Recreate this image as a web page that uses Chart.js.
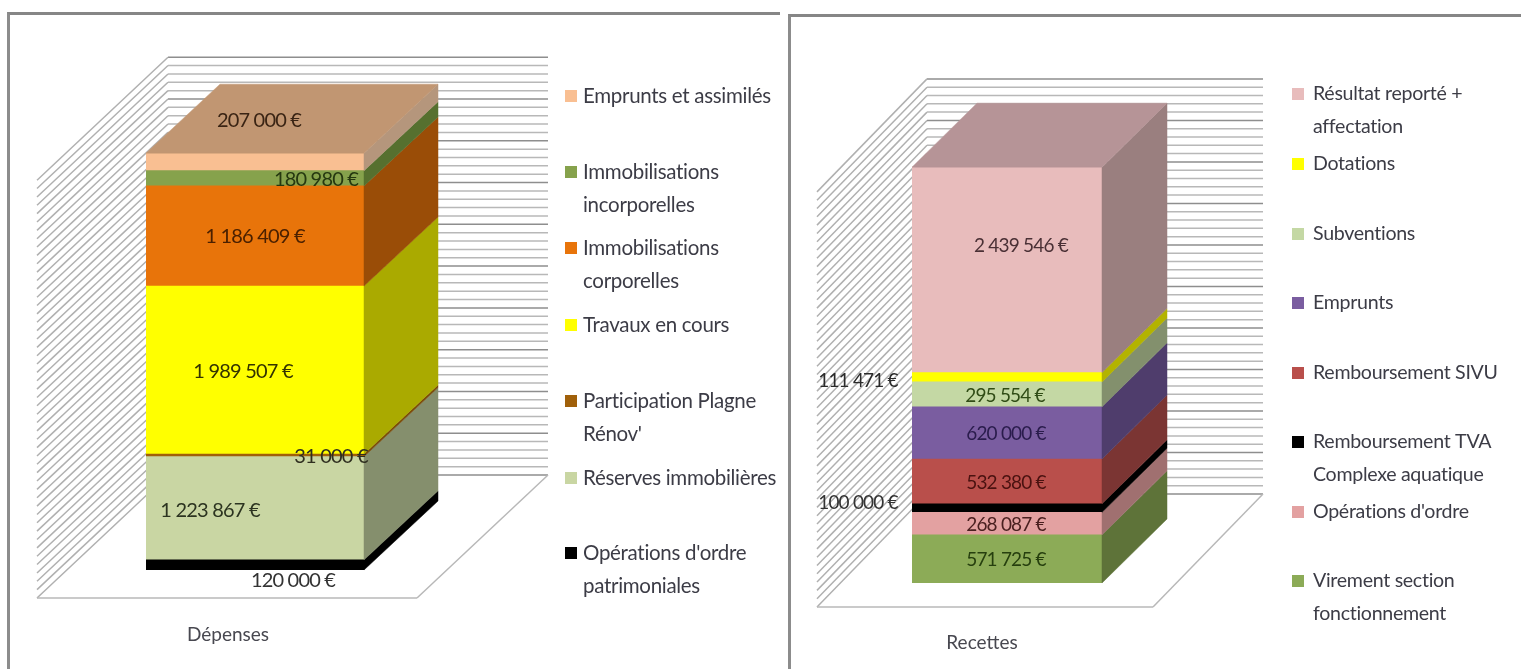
<!DOCTYPE html>
<html lang="fr">
<head>
<meta charset="utf-8">
<title>Dépenses et recettes</title>
<script src="https://cdn.jsdelivr.net/npm/chart.js@4"></script>
<style>
    html, body { margin: 0; padding: 0; background: #fff; overflow: hidden; }
    canvas { position: absolute; top: 0; filter: blur(0.6px); }
    #chartDep { left: 0; }
    #chartRec { left: 780px; }
    .frame { position: absolute; border-top: 3px solid #868686; border-left: 3px solid #8c8c8c; height: 669px; }
    #frameDep { left: 7px; top: 12px; width: 770px; }
    #frameRec { left: 788px; top: 14px; width: 733px; }
</style>
</head>
<body>
<div class="frame" id="frameDep"></div>
<div class="frame" id="frameRec"></div>
<canvas id="chartDep" width="780" height="669"></canvas>
<canvas id="chartRec" width="741" height="669"></canvas>
<script>
// données, du bas de la pile vers le haut
const depCategory = ['Dépenses'];
const depNames = ["Opérations d'ordre\npatrimoniales", 'Réserves immobilières', "Participation Plagne\nRénov'", 'Travaux en cours', 'Immobilisations\ncorporelles', 'Immobilisations\nincorporelles', 'Emprunts et assimilés'];
const depValues = [120000, 1223867, 31000, 1989507, 1186409, 180980, 207000];

const recCategory = ['Recettes'];
const recNames = ['Virement section\nfonctionnement', "Opérations d'ordre", 'Remboursement TVA\nComplexe aquatique', 'Remboursement SIVU', 'Emprunts', 'Subventions', 'Dotations', 'Résultat reporté +\naffectation'];
const recValues = [571725, 268087, 100000, 532380, 620000, 295554, 111471, 2439546];

const axisMax = 5000000;
const axisStep = 100000;
const axisMajor = 500000;

// couleurs : face avant, face latérale, texte de l'étiquette
const depColors = ['#000000', '#c9d6a3', '#a0600a', '#ffff00', '#e8740a', '#86a24c', '#f9bf92'];
const depSides = ['#000000', '#858f6d', '#7a4a08', '#aaaa00', '#9a4d07', '#56702f', '#b5967c'];
const depText = ['#333333', '#2c3420', '#2f2f20', '#333300', '#4a2000', '#263810', '#3a2414'];
const recColors = ['#8cab57', '#e3a1a1', '#000000', '#b94f4b', '#7a5da0', '#c4d8a4', '#ffff00', '#e8bcbc'];
const recSides = ['#5e7339', '#a07070', '#000000', '#7b3533', '#4f3d6c', '#83906d', '#b3b300', '#9a7f7f'];
const recText = ['#263f0e', '#4a2020', '#333333', '#4a1210', '#2a1c4c', '#304c16', '#2a2a2a', '#4a3035'];

const FONT = 'Lato, "Noto Sans", sans-serif';
const GRID = '#b8b8b8';
const GRID_MAJOR = '#8e8e8e';
const GRID_SIDE = '#b0b0b0';

function euro(v) {
    return String(v).replace(/\B(?=(\d{3})+$)/g, ' ') + ' €';
}

function poly(ctx, pts, fill) {
    ctx.beginPath();
    pts.forEach((p, i) => i ? ctx.lineTo(p[0], p[1]) : ctx.moveTo(p[0], p[1]));
    ctx.closePath();
    ctx.fillStyle = fill;
    ctx.fill();
    ctx.strokeStyle = fill;
    ctx.lineWidth = 0.5;
    ctx.stroke();
}

// faux 3D façon Excel : murs, sol, faces du bloc, étiquettes et légende
const box3d = {
    id: 'box3d',
    beforeDatasetsDraw(chart, args, o) {
        const { ctx, chartArea } = chart;
        const y = chart.scales.y;
        const base = chartArea.bottom + o.wall.dy;
        const left = chartArea.left + o.wall.left;
        const right = chartArea.left + o.wall.right;
        const line = (x1, y1, x2, y2) => {
            ctx.beginPath();
            ctx.moveTo(x1, y1);
            ctx.lineTo(x2, y2);
            ctx.stroke();
        };
        ctx.save();
        ctx.lineWidth = 1.5;
        y.ticks.forEach(t => {
            const yy = base - (chartArea.bottom - y.getPixelForValue(t.value)) * o.wall.scale;
            ctx.strokeStyle = t.value % axisMajor === 0 ? GRID_MAJOR : GRID;
            line(left, yy, right, yy);
            ctx.strokeStyle = GRID_SIDE;
            line(left, yy, left + o.wall.depthX, yy + o.wall.depthY);
        });
        // sol
        ctx.strokeStyle = GRID;
        line(left + o.wall.depthX, base + o.wall.depthY, right + o.wall.depthX, base + o.wall.depthY);
        line(right + o.wall.depthX, base + o.wall.depthY, right, base);
        ctx.restore();
    },
    afterDatasetsDraw(chart, args, o) {
        const { ctx } = chart;
        const dx = o.depth.x, dy = o.depth.y;
        const n = chart.data.datasets.length;
        ctx.save();
        chart.data.datasets.forEach((ds, i) => {
            const el = chart.getDatasetMeta(i).data[0];
            const { x, y, base, width } = el.getProps(['x', 'y', 'base', 'width'], true);
            const L = x - width / 2, R = x + width / 2;
            poly(ctx, [[R, y], [R + dx, y + dy], [R + dx, base + dy], [R, base]], o.sides[i]);
            if (i === n - 1) {
                poly(ctx, [[L, y], [L + dx, y + dy], [R + dx, y + dy], [R, y]], o.topColor);
            }
        });
        // étiquettes de valeurs
        ctx.textAlign = 'center';
        ctx.textBaseline = 'middle';
        ctx.font = o.labelSize + 'px ' + FONT;
        ctx.letterSpacing = '-0.8px';
        chart.data.datasets.forEach((ds, i) => {
            const el = chart.getDatasetMeta(i).data[0];
            const { x, y, base } = el.getProps(['x', 'y', 'base'], true);
            ctx.fillStyle = o.text[i];
            ctx.fillText(euro(ds.data[0]), x + o.labelShift[i][0], (y + base) / 2 + o.labelShift[i][1]);
        });
        // légende
        ctx.textAlign = 'left';
        ctx.font = o.legend.size + 'px ' + FONT;
        ctx.letterSpacing = '-0.3px';
        chart.data.datasets.forEach((ds, i) => {
            const yy = o.legend.y[i];
            ctx.fillStyle = ds.backgroundColor;
            ctx.fillRect(o.legend.x, yy - 6, 12, 12);
            ctx.fillStyle = '#3c3c46';
            ds.label.split('\n').forEach((txt, k) => {
                ctx.fillText(txt, o.legend.x + o.legend.gap, yy + k * 33);
            });
        });
        ctx.restore();
    }
};

function makeChart(id, cat, names, values, colors, box, xShift, pad) {
    return new Chart(document.getElementById(id), {
        type: 'bar',
        data: {
            labels: cat,
            datasets: names.map((name, i) => ({
                label: name,
                data: [values[i]],
                backgroundColor: colors[i],
                barPercentage: 1,
                categoryPercentage: 1
            }))
        },
        plugins: [box3d],
        options: {
            responsive: false,
            devicePixelRatio: 1,
            animation: false,
            layout: { padding: pad },
            plugins: { legend: { display: false }, tooltip: { enabled: false }, box3d: box },
            scales: {
                x: {
                    stacked: true,
                    offset: true,
                    grid: { display: false },
                    border: { display: false },
                    afterFit(s) { s.height = box.catHeight; },
                    ticks: { labelOffset: xShift, padding: box.catPad, color: '#484850', font: { family: FONT, size: 19 }, maxRotation: 0 }
                },
                y: {
                    stacked: true,
                    min: 0,
                    max: axisMax,
                    grid: { display: false },
                    border: { display: false },
                    afterFit(s) { s.width = 0; },
                    ticks: { stepSize: axisStep, display: false }
                }
            }
        }
    });
}

makeChart('chartDep', depCategory, depNames, depValues, depColors, {
    wall: { left: 22, right: 402, dy: -95, depthX: -131, depthY: 123, scale: 0.99 },
    depth: { x: 74, y: -69 },
    sides: depSides,
    topColor: '#c19672',
    text: depText,
    labelSize: 20,
    catHeight: 99,
    catPad: 45,
    labelShift: [[38, 16], [-45, 2], [76, 1], [-12, 2], [0, 1], [61, 1], [4, -41]],
    legend: { x: 565, gap: 18, size: 20.5, y: [553, 478, 401, 325, 248, 172, 96] }
}, -27, { left: 146, right: 416, top: 148, bottom: 0 });

makeChart('chartRec', recCategory, recNames, recValues, recColors, {
    wall: { left: 15, right: 351, dy: -89, depthX: -110, depthY: 113, scale: 0.986 },
    depth: { x: 65, y: -64 },
    sides: recSides,
    topColor: '#b69497',
    text: recText,
    labelSize: 19,
    catHeight: 86,
    catPad: 40,
    labelShift: [[-1, 1], [-1, 1], [-149, -5], [-1, 1], [-1, 1], [-2, 1], [-149, 4], [14, -24]],
    legend: { x: 512, gap: 21, size: 19.6, y: [581, 512, 442, 373, 303, 234, 164, 94] }
}, -25, { left: 132, right: 419, top: 162, bottom: 0 });
</script>
</body>
</html>
